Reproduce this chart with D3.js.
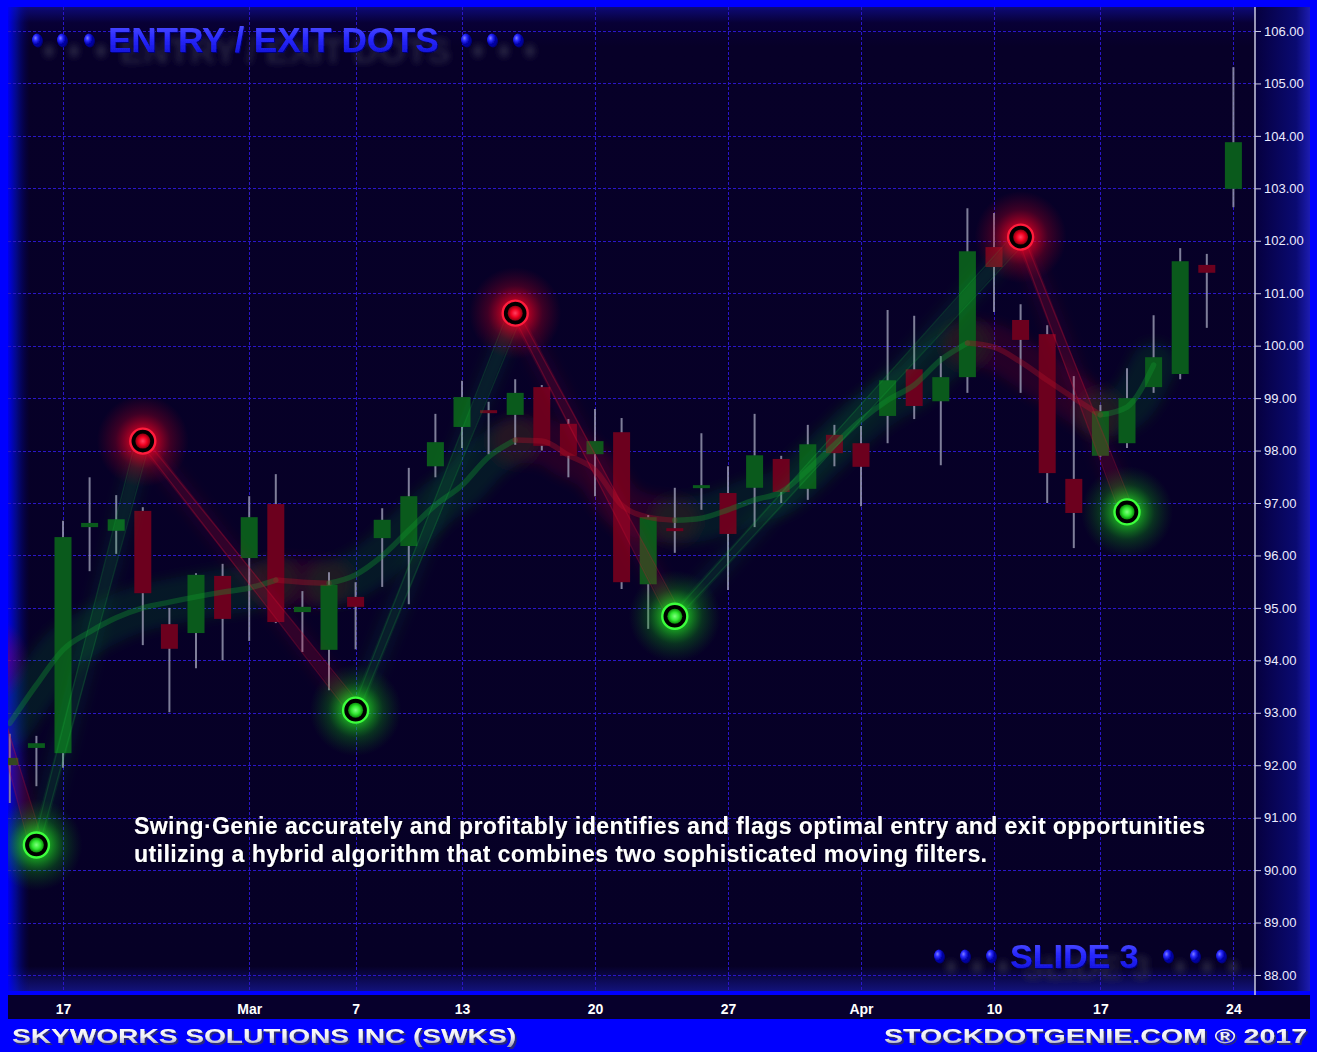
<!DOCTYPE html>
<html><head><meta charset="utf-8">
<script src="https://cdn.jsdelivr.net/npm/d3@7"></script>
<style>html,body{margin:0;padding:0;background:#0000ff;overflow:hidden}</style>
</head><body>
<svg id="c" width="1317" height="1052"></svg>
<script>
// ---------------- DATA ----------------
const dates = ["2017-02-15","2017-02-16","2017-02-17","2017-02-21","2017-02-22","2017-02-23","2017-02-24","2017-02-27","2017-02-28",
"2017-03-01","2017-03-02","2017-03-03","2017-03-06","2017-03-07","2017-03-08","2017-03-09","2017-03-10","2017-03-13","2017-03-14","2017-03-15","2017-03-16","2017-03-17","2017-03-20","2017-03-21","2017-03-22","2017-03-23","2017-03-24","2017-03-27","2017-03-28","2017-03-29","2017-03-30","2017-03-31",
"2017-04-03","2017-04-04","2017-04-05","2017-04-06","2017-04-07","2017-04-10","2017-04-11","2017-04-12","2017-04-13","2017-04-17","2017-04-18","2017-04-19","2017-04-20","2017-04-21","2017-04-24"];
const openP  = [92.00,92.33,92.23,96.54,96.47,96.85,94.69,94.52,95.61,95.95,96.98,94.92,94.20,95.21,96.33,96.18,97.70,98.45,98.77,98.68,99.21,98.51,97.93,98.35,95.45,96.52,97.29,97.19,97.29,97.84,97.27,98.30,98.14,98.66,99.55,98.94,99.40,101.88,100.49,100.22,97.46,97.90,98.14,99.21,99.46,101.54,102.99];
const highP  = [92.60,92.56,96.66,97.49,97.15,96.92,95.00,95.66,95.84,97.13,97.55,95.32,95.68,95.49,96.90,97.67,98.70,99.33,98.93,99.36,99.25,98.60,98.79,98.62,96.77,97.29,98.33,97.70,98.70,97.90,98.49,98.49,98.47,100.68,100.57,99.80,102.62,102.53,100.79,100.39,99.42,98.87,99.57,100.58,101.86,101.75,105.31];
const lowP   = [91.28,91.60,91.95,95.70,96.03,94.29,93.01,93.85,94.00,94.37,94.71,94.16,93.43,94.21,95.40,95.07,97.49,98.05,97.93,98.11,98.00,97.49,97.13,95.36,94.60,96.05,96.87,95.34,96.54,97.00,97.06,97.70,96.94,98.14,98.60,97.72,99.10,100.64,99.10,97.00,96.14,97.88,98.05,99.10,99.36,100.34,102.64];
const closeP = [92.14,92.42,96.35,96.62,96.69,95.28,94.22,95.63,94.79,96.73,94.73,95.02,95.44,95.02,96.68,97.13,98.16,99.02,98.72,99.10,98.09,97.90,98.18,95.49,96.73,96.48,97.34,96.41,97.91,97.21,98.12,97.95,97.69,99.34,98.85,99.40,101.80,101.50,100.11,97.57,96.81,98.75,99.00,99.78,101.61,101.39,103.88];
const maValues = [92.80,93.53,94.20,94.54,94.81,95.00,95.11,95.21,95.30,95.38,95.53,95.49,95.47,95.63,95.99,96.48,96.96,97.34,97.88,98.20,98.18,97.91,97.63,96.96,96.73,96.67,96.71,96.87,97.06,97.21,97.63,98.11,98.58,98.96,99.25,99.73,100.05,99.97,99.69,99.34,99.00,98.68,98.83,99.63];
const swingIdx   = [-1, 1, 5, 13, 19, 25, 38, 42];
const swingPrice = [94.0, 90.48, 98.18, 93.05, 100.62, 94.84, 102.07, 96.83];
const swingType  = ["exit","entry","exit","entry","exit","entry","exit","entry"];
const tickDates  = ["2017-02-17","2017-03-01","2017-03-07","2017-03-13","2017-03-20","2017-03-27","2017-04-03","2017-04-10","2017-04-17","2017-04-24"];
const tickLabels = ["17","Mar","7","13","20","27","Apr","10","17","24"];
const priceTicks = [88,89,90,91,92,93,94,95,96,97,98,99,100,101,102,103,104,105,106];
const titleText = "ENTRY / EXIT DOTS";
const slideText = "SLIDE 3";
const noteLines = ["Swing\u00B7Genie accurately and profitably identifies and flags optimal entry and exit opportunities",
                   "utilizing a hybrid algorithm that combines two sophisticated moving filters."];
const footerLeft = "SKYWORKS SOLUTIONS INC (SWKS)";
const footerRight = "STOCKDOTGENIE.COM \u00AE 2017";

// ---------------- LAYOUT ----------------
const W = 1317, H = 1052;
const P = {l: 8, r: 1255, t: 7, b: 991};
const svg = d3.select("#c");
const defs = svg.append("defs");

const x = d3.scaleLinear().domain([0, dates.length - 1]).range([9.8, 1233.4]);
const y = d3.scaleLinear().domain([88, 106]).range([975, 31]);

function lin(id, x1, y1, x2, y2, stops) {
  const g = defs.append("linearGradient").attr("id", id).attr("x1", x1).attr("y1", y1).attr("x2", x2).attr("y2", y2);
  stops.forEach(s => g.append("stop").attr("offset", s[0]).attr("stop-color", s[1]).attr("stop-opacity", s[2] == null ? 1 : s[2]));
}
function rad(id, stops, cx, cy) {
  const g = defs.append("radialGradient").attr("id", id).attr("cx", cx || "50%").attr("cy", cy || "50%").attr("r", "50%");
  stops.forEach(s => g.append("stop").attr("offset", s[0]).attr("stop-color", s[1]).attr("stop-opacity", s[2] == null ? 1 : s[2]));
}
lin("plotBg", 0, 0, 0, 1, [["0%", "#0d0a78"], ["1.6%", "#080036"], ["4%", "#070028"], ["97.5%", "#060026"], ["100%", "#12127a"]]);
lin("leftGlow", 0, 0, 1, 0, [["0%", "#0000ff", 0.9], ["40%", "#0010e0", 0.5], ["100%", "#000080", 0]]);
lin("rightPanel", 0, 0, 1, 0, [["0%", "#06003e"], ["75%", "#0a0a72"], ["100%", "#1c1cb0"]]);
lin("titleFill", 0, 0, 0, 1, [["0%", "#5a5aff"], ["45%", "#2a2aff"], ["100%", "#0c0cd0"]]);
lin("footFill", 0, 0, 0, 1, [["0%", "#ffffff"], ["55%", "#f0f0f6"], ["100%", "#9a9ab8"]]);
rad("bead", [["0%", "#8080ff"], ["45%", "#2a2aff"], ["100%", "#0000a0"]], "35%", "35%");
rad("glowRed", [["0%", "#ff0028", 1], ["30%", "#e80022", 0.7], ["60%", "#c00020", 0.3], ["100%", "#a00020", 0]]);
rad("glowGreen", [["0%", "#30ff30", 1], ["30%", "#20e020", 0.65], ["60%", "#10b010", 0.28], ["100%", "#108010", 0]]);
rad("coreRed", [["0%", "#ff4060"], ["55%", "#f00020"], ["100%", "#8a0010"]]);
rad("coreGreen", [["0%", "#80ff80"], ["55%", "#30e830"], ["100%", "#0a8a0a"]]);
const f1 = defs.append("filter").attr("id", "blur6").attr("x", "-50%").attr("y", "-50%").attr("width", "200%").attr("height", "200%");
f1.append("feGaussianBlur").attr("stdDeviation", 6);

function shadowFilter(id, layers) {
  const f = defs.append("filter").attr("id", id).attr("x", "-10%").attr("y", "-40%").attr("width", "125%").attr("height", "200%");
  layers.forEach((L, k) => {
    f.append("feOffset").attr("in", "SourceAlpha").attr("dx", L.dx).attr("dy", L.dy).attr("result", "o" + k);
    f.append("feGaussianBlur").attr("in", "o" + k).attr("stdDeviation", L.blur).attr("result", "b" + k);
    f.append("feFlood").attr("flood-color", L.color).attr("flood-opacity", L.op).attr("result", "c" + k);
    f.append("feComposite").attr("in", "c" + k).attr("in2", "b" + k).attr("operator", "in").attr("result", "s" + k);
  });
  const m = f.append("feMerge");
  layers.forEach((L, k) => m.append("feMergeNode").attr("in", "s" + k));
  m.append("feMergeNode").attr("in", "SourceGraphic");
}
shadowFilter("titleShadow", [{dx: 12, dy: 11, blur: 3, color: "#3a3a52", op: 0.6}, {dx: 1.2, dy: 1.2, blur: 0.3, color: "#00007a", op: 1}]);
shadowFilter("noteShadow", [{dx: 1, dy: 1, blur: 0.6, color: "#000010", op: 0.8}]);
shadowFilter("footShadow", [{dx: 1.5, dy: 1.5, blur: 0.5, color: "#2a2a7a", op: 1}]);

defs.append("clipPath").attr("id", "plotClip").append("rect")
  .attr("x", P.l).attr("y", P.t).attr("width", P.r - P.l).attr("height", P.b - P.t);

// frame
svg.append("rect").attr("width", W).attr("height", H).attr("fill", "#0000ff");
svg.append("rect").attr("x", P.l).attr("y", P.t).attr("width", P.r - P.l).attr("height", P.b - P.t).attr("fill", "url(#plotBg)");
svg.append("rect").attr("x", P.r).attr("y", P.t).attr("width", 1310 - P.r).attr("height", P.b - P.t).attr("fill", "url(#rightPanel)");
svg.append("rect").attr("x", P.l).attr("y", 995).attr("width", 1310 - P.l).attr("height", 24).attr("fill", "#07002c");

const plot = svg.append("g").attr("clip-path", "url(#plotClip)");
plot.append("rect").attr("x", P.l).attr("y", P.t).attr("width", 22).attr("height", P.b - P.t).attr("fill", "url(#leftGlow)");

// grid
const tickIdx = tickDates.map(d => dates.indexOf(d));
plot.append("g").selectAll("line").data(priceTicks).join("line")
  .attr("x1", P.l).attr("x2", P.r).attr("y1", d => Math.round(y(d)) + 0.5).attr("y2", d => Math.round(y(d)) + 0.5)
  .attr("stroke", "#2a16c8").attr("stroke-width", 1).attr("stroke-dasharray", "3,2");
plot.append("g").selectAll("line").data(tickIdx).join("line")
  .attr("x1", d => Math.round(x(d)) + 0.5).attr("x2", d => Math.round(x(d)) + 0.5).attr("y1", P.t).attr("y2", P.b)
  .attr("stroke", "#2a16c8").attr("stroke-width", 1).attr("stroke-dasharray", "3,2");

// moving average glow
const maPts = maValues.map((v, i) => [x(i), y(v)]);
const runs = [];
for (let i = 0; i < maPts.length - 1; i++) {
  const up = maValues[i + 1] >= maValues[i];
  if (runs.length && runs[runs.length - 1].up === up) runs[runs.length - 1].pts.push(maPts[i + 1]);
  else runs.push({up, pts: [maPts[i], maPts[i + 1]]});
}
const maLine = d3.line().curve(d3.curveMonotoneX);
const maGlow = plot.append("g").attr("filter", "url(#blur6)");
runs.forEach(r => {
  maGlow.append("path").attr("d", maLine(r.pts)).attr("fill", "none")
    .attr("stroke", r.up ? "#0c7a24" : "#9a0822").attr("stroke-width", 46).attr("stroke-opacity", 0.2).attr("stroke-linecap", "round");
});

// candles
const cw = 17;
const cg = plot.append("g");
cg.selectAll("line.wick").data(dates).join("line").attr("class", "wick")
  .attr("x1", (d, i) => x(i)).attr("x2", (d, i) => x(i))
  .attr("y1", (d, i) => y(highP[i])).attr("y2", (d, i) => y(lowP[i]))
  .attr("stroke", "#9494ae").attr("stroke-width", 2).attr("stroke-opacity", 0.85);
cg.selectAll("rect.body").data(dates).join("rect").attr("class", "body")
  .attr("x", (d, i) => x(i) - cw / 2).attr("width", cw)
  .attr("y", (d, i) => y(Math.max(openP[i], closeP[i])))
  .attr("height", (d, i) => Math.max(3, Math.abs(y(openP[i]) - y(closeP[i]))))
  .attr("fill", (d, i) => closeP[i] >= openP[i] ? "#0a5a1c" : "#6c001e");

// moving average core
runs.forEach(r => {
  plot.append("path").attr("d", maLine(r.pts)).attr("fill", "none")
    .attr("stroke", r.up ? "#12962e" : "#b0102a").attr("stroke-width", 5.5).attr("stroke-opacity", 0.36).attr("stroke-linecap", "round");
});

// zigzag swing lines
const zz = plot.append("g");
for (let k = 0; k < swingIdx.length - 1; k++) {
  const x0 = x(swingIdx[k]), y0 = y(swingPrice[k]), x1 = x(swingIdx[k + 1]), y1 = y(swingPrice[k + 1]);
  const up = swingPrice[k + 1] > swingPrice[k];
  const col = up ? "#1cc040" : "#d01034";
  const len = Math.hypot(x1 - x0, y1 - y0), nx = -(y1 - y0) / len, ny = (x1 - x0) / len;
  zz.append("line").attr("x1", x0).attr("y1", y0).attr("x2", x1).attr("y2", y1)
    .attr("stroke", col).attr("stroke-width", 24).attr("stroke-opacity", 0.08).attr("filter", "url(#blur6)");
  zz.append("line").attr("x1", x0).attr("y1", y0).attr("x2", x1).attr("y2", y1)
    .attr("stroke", col).attr("stroke-width", 11).attr("stroke-opacity", up ? 0.09 : 0.15);
  [-1, 1].forEach(s => {
    zz.append("line").attr("x1", x0 + s * nx * 3).attr("y1", y0 + s * ny * 3)
      .attr("x2", x1 + s * nx * 7).attr("y2", y1 + s * ny * 7)
      .attr("stroke", col).attr("stroke-width", 1.3).attr("stroke-opacity", up ? 0.18 : 0.3);
  });
}

// dots
const dg = plot.append("g");
swingIdx.forEach((si, k) => {
  const cx = x(si), cy = y(swingPrice[k]), isExit = swingType[k] === "exit";
  dg.append("circle").attr("cx", cx).attr("cy", cy).attr("r", 46).attr("fill", isExit ? "url(#glowRed)" : "url(#glowGreen)");
  dg.append("circle").attr("cx", cx).attr("cy", cy).attr("r", 12.5).attr("fill", "#000")
    .attr("stroke", isExit ? "#ff1c3c" : "#3cff3c").attr("stroke-width", 2.4);
  dg.append("circle").attr("cx", cx).attr("cy", cy).attr("r", 7.5).attr("fill", isExit ? "url(#coreRed)" : "url(#coreGreen)");
});

// right axis
const yAxis = d3.axisRight(y).tickValues(priceTicks).tickFormat(d3.format(".2f")).tickSize(6).tickPadding(3);
const ya = svg.append("g").attr("transform", `translate(${P.r},0)`).call(yAxis);
ya.select(".domain").attr("stroke", "#c8c8e0").attr("stroke-width", 1.5).attr("d", `M0,${P.t}V${P.b + 4}`);
ya.selectAll(".tick line").attr("stroke", "#c8c8e0");
ya.selectAll(".tick text").attr("fill", "#ececff").attr("font-family", "Liberation Sans, Arial, sans-serif").attr("font-size", 13);

// bottom date axis
const xAxis = d3.axisBottom(x).tickValues(tickIdx).tickFormat((d, i) => tickLabels[i]).tickSize(0).tickPadding(0);
const xa = svg.append("g").attr("transform", "translate(0,1004)").call(xAxis);
xa.select(".domain").remove();
xa.selectAll(".tick text").attr("fill", "#ffffff").attr("font-family", "Liberation Sans Narrow, Arial Narrow, sans-serif")
  .attr("font-weight", "bold").attr("font-size", 14).attr("dy", "0.71em");

// title with beads
function beadText(txt, tx, baseline, size, beadXs, beadY) {
  const g = svg.append("g").attr("filter", "url(#titleShadow)");
  beadXs.forEach(bx => g.append("ellipse").attr("cx", bx).attr("cy", beadY).attr("rx", 5).attr("ry", 6.5).attr("fill", "url(#bead)"));
  g.append("text").attr("x", tx).attr("y", baseline).text(txt).attr("font-family", "Liberation Sans, Arial, sans-serif")
    .attr("font-weight", "bold").attr("font-size", size).attr("fill", "url(#titleFill)");
}
beadText(titleText, 108, 52, 35, [37, 62, 89, 466, 492, 518], 40);
beadText(slideText, 1010, 968, 34, [939, 965, 991, 1168, 1195, 1221], 956);

// note text
const lens = [1071, 853];
noteLines.forEach((t, i) => {
  svg.append("text").attr("x", 134).attr("y", 834 + i * 28).text(t).attr("textLength", lens[i]).attr("lengthAdjust", "spacing")
    .attr("font-family", "Liberation Sans, Arial, sans-serif").attr("font-weight", "bold").attr("font-size", 23)
    .attr("fill", "#ffffff").attr("filter", "url(#noteShadow)");
});

// footer
function foot(t, fx, len) {
  svg.append("text").attr("x", fx).attr("y", 1043).text(t).attr("textLength", len).attr("lengthAdjust", "spacingAndGlyphs")
    .attr("font-family", "Liberation Sans, Arial, sans-serif").attr("font-weight", "bold").attr("font-size", 21)
    .attr("fill", "url(#footFill)").attr("filter", "url(#footShadow)");
}
foot(footerLeft, 12, 504);
foot(footerRight, 884, 423);
</script>
</body></html>
